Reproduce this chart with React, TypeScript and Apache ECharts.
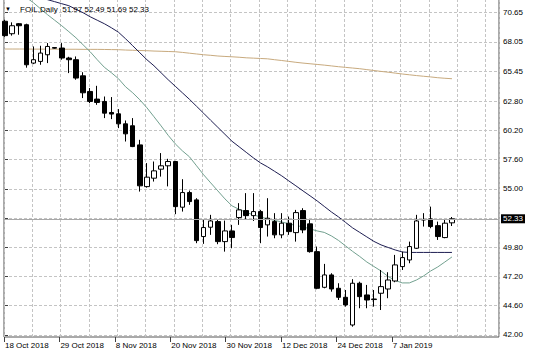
import React, { useEffect, useRef } from 'react';
import * as echarts from 'echarts';

const symbolName = 'FOIL,Daily';

// Daily candles, 18 Oct 2018 .. 17 Jan 2019 (bar index 0..63)
const opens = [
  69.89, 68.78, 69.67, 69.58, 66.17, 66.32, 66.91, 67.55, 67.51, 66.62,
  66.47, 65.04, 63.65, 62.97, 62.76, 61.78, 61.66, 60.77, 60.6, 58.9,
  55.19, 55.94, 56.74, 57.04, 57.42, 53.36, 54.66, 54.01, 50.75, 51.58,
  52.08, 50.3, 51.25, 52.44, 53.06, 52.61, 52.97, 51.79, 52.08, 50.9,
  51.94, 51.1, 53.06, 51.88, 49.41, 46.24, 47.34, 46.15, 45.35, 42.89,
  46.6, 45.56, 45.15, 45.71, 46.09, 46.8, 48.08, 48.67, 49.71, 52.22,
  52.32, 51.72, 50.66, 51.97,
];
const highs = [
  70.03, 69.79, 69.73, 69.67, 67.65, 67.71, 67.95, 67.6, 67.95, 66.73,
  66.76, 65.36, 63.95, 64.15, 63.2, 63.15, 62.08, 61.07, 61.28, 59.35,
  57.28, 57.42, 58.17, 57.66, 57.48, 55.85, 54.84, 54.16, 52.23, 52.68,
  52.23, 52.17, 51.79, 53.72, 54.61, 54.61, 53.12, 54.16, 52.83, 52.83,
  52.53, 53.12, 53.27, 52.23, 49.86, 48.32, 47.49, 46.6, 46.0, 46.96,
  46.74, 46.45, 46.0, 47.78, 47.58, 49.12, 49.41, 50.3, 52.68, 52.83,
  53.41, 52.08, 52.23, 52.49,
];
const lows = [
  68.5, 68.61, 68.69, 65.76, 66.08, 66.02, 66.17, 67.45, 66.47, 65.28,
  64.69, 63.06, 62.61, 62.46, 61.28, 61.19, 60.39, 59.2, 58.7, 54.75,
  55.1, 55.64, 56.08, 55.21, 52.74, 52.97, 53.57, 50.16, 50.1, 50.9,
  50.07, 49.41, 49.71, 51.79, 52.23, 52.14, 50.16, 50.75, 50.6, 50.6,
  50.9, 50.3, 51.05, 49.32, 46.07, 46.15, 45.85, 45.11, 44.52, 42.74,
  44.38, 44.38, 44.52, 44.22, 45.27, 46.69, 47.78, 48.38, 49.65, 51.64,
  51.49, 50.45, 50.6, 51.69,
];
const closes = [
  68.61, 69.49, 69.49, 66.02, 66.47, 67.06, 67.65, 67.5, 66.62, 66.47,
  64.84, 63.53, 62.76, 62.67, 61.72, 61.64, 60.77, 59.88, 58.75, 55.26,
  56.03, 56.59, 57.04, 57.42, 53.41, 54.66, 53.86, 50.39, 51.55, 52.14,
  50.3, 51.25, 50.66, 53.12, 52.61, 52.97, 51.55, 52.38, 50.9, 51.94,
  51.19, 52.88, 51.34, 49.41, 46.15, 47.34, 46.09, 45.35, 44.67, 46.6,
  45.41, 45.11, 45.2, 46.3, 46.89, 48.23, 48.88, 49.86, 52.14, 52.27,
  51.64, 50.75, 51.94, 52.33,
];

// Moving averages (teal = fast, navy = medium, tan = slow)
const maFast = [
  null, null, null, 72.0, 71.54, 71.0, 70.47, 69.98, 69.49, 68.96,
  68.42, 67.8, 67.18, 66.47, 65.8, 65.31, 64.78, 64.06, 63.53, 62.91,
  62.2, 61.4, 60.59, 59.75, 58.99, 58.37, 57.84, 57.04, 56.24, 55.52,
  54.81, 54.1, 53.48, 53.17, 52.9, 52.68, 52.5, 52.32, 52.19, 52.05,
  51.88, 51.74, 51.61, 51.43, 51.25, 51.12, 50.81, 50.41, 49.92, 49.43,
  48.98, 48.49, 48.09, 47.69, 47.2, 46.85, 46.63, 46.63, 46.89, 47.25,
  47.69, 48.05, 48.49, 48.94,
];
const maMid = [
  null, null, null, null, 72.6, 72.07, 71.81, 71.63, 71.45, 71.27,
  70.96, 70.65, 70.29, 69.98, 69.67, 69.31, 68.91, 68.33, 67.71, 67.09,
  66.47, 65.93, 65.31, 64.69, 64.11, 63.53, 62.95, 62.33, 61.71, 61.08,
  60.46, 59.84, 59.22, 58.73, 58.24, 57.75, 57.3, 56.95, 56.55, 56.15,
  55.7, 55.26, 54.81, 54.37, 53.92, 53.43, 52.94, 52.5, 52.01, 51.52,
  51.12, 50.72, 50.32, 50.01, 49.78, 49.56, 49.38, 49.34, 49.34, 49.34,
  49.34, 49.34, 49.34, 49.34,
];
const maSlow = [
  67.42, 67.42, 67.42, 67.42, 67.41, 67.41, 67.41, 67.41, 67.4, 67.4,
  67.4, 67.39, 67.39, 67.39, 67.38, 67.37, 67.36, 67.33, 67.31, 67.29,
  67.27, 67.24, 67.22, 67.2, 67.18, 67.12, 67.05, 66.98, 66.91, 66.86,
  66.8, 66.76, 66.73, 66.69, 66.64, 66.61, 66.58, 66.55, 66.47, 66.4,
  66.32, 66.24, 66.17, 66.11, 66.05, 65.99, 65.92, 65.85, 65.79, 65.73,
  65.67, 65.59, 65.51, 65.43, 65.36, 65.28, 65.2, 65.13, 65.06, 65.0,
  64.94, 64.87, 64.82, 64.78,
];

const xLabels = [
  '18 Oct 2018', '29 Oct 2018', '8 Nov 2018', '20 Nov 2018',
  '30 Nov 2018', '12 Dec 2018', '24 Dec 2018', '7 Jan 2019',
];
const yTicks = [42.0, 44.6, 47.2, 49.8, 52.4, 55.0, 57.6, 60.2, 62.8, 65.45, 68.05, 70.65];

const FONT = '"Liberation Sans", Arial, sans-serif';

export default function App() {
  const ref = useRef<HTMLDivElement>(null);

  useEffect(() => {
    const chart = echarts.init(ref.current!, null, { renderer: 'svg' });
    const n = closes.length;
    const candles = closes.map((c, i) => [i, opens[i], c, lows[i], highs[i]]);
    const toLine = (arr: (number | null)[]) => arr.map((v, i) => [i, v]);
    const last = n - 1;
    const lastPrice = closes[last];
    const header = `${symbolName}  ${opens[last].toFixed(2)} ${highs[last].toFixed(2)} ${lows[last].toFixed(2)} ${closes[last].toFixed(2)}`;

    const gridLine = { show: true, lineStyle: { color: '#c4c4c4', type: [3, 2], width: 1 } };

    chart.setOption({
      animation: false,
      backgroundColor: '#ffffff',
      textStyle: { fontFamily: FONT },
      grid: {
        left: 4, right: 37, top: -1, bottom: 21,
        show: true, borderColor: '#555555', borderWidth: 1, backgroundColor: '#ffffff',
        outerBoundsMode: 'none',
      },
      graphic: [
        { type: 'text', left: 5, top: 6, z: 10, style: { text: '▼', fontSize: 6, fill: '#000', fontFamily: FONT } },
        { type: 'text', left: 20, top: 5, z: 10, style: { text: header, fontSize: 8, fill: '#000', fontFamily: FONT } },
      ],
      xAxis: [
        {
          type: 'value', gridIndex: 0, min: -0.141, max: 69.63, show: false,
        },
        {
          type: 'value', gridIndex: 0, min: 0, max: 17.47, interval: 1, position: 'bottom',
          axisLine: { show: false }, axisTick: { show: false }, axisLabel: { show: false },
          splitLine: gridLine,
        },
        {
          type: 'value', gridIndex: 0, min: 0, max: 8.935, interval: 1, position: 'bottom',
          axisLine: { show: false },
          axisTick: {
            show: true, length: 5, customValues: xLabels.map((_, i) => i),
            lineStyle: { color: '#404040' },
          },
          axisLabel: {
            show: true, customValues: xLabels.map((_, i) => i),
            formatter: (v: number) => xLabels[Math.round(v)] ?? '',
            align: 'left', margin: 4, padding: [0, 0, 0, 1],
            fontSize: 8, color: '#000', fontFamily: FONT,
          },
          splitLine: { show: false },
        },
      ],
      yAxis: [
        {
          type: 'value', gridIndex: 0, position: 'right', min: 41.822, max: 71.867,
          axisLine: { show: false },
          axisTick: { show: true, length: 3, customValues: yTicks, lineStyle: { color: '#404040' } },
          axisLabel: {
            customValues: yTicks,
            formatter: (v: number) => (Math.abs(v - 52.4) < 0.01 ? '' : v.toFixed(2)),
            margin: 4, padding: [2, 0, 0, 0], fontSize: 8, color: '#000', fontFamily: FONT,
          },
          splitLine: gridLine,
        },
      ],
      series: [
        {
          type: 'line', xAxisIndex: 0, yAxisIndex: 0, data: toLine(maSlow),
          showSymbol: false, symbol: 'none', clip: true, z: 2,
          lineStyle: { color: '#c8aa7e', width: 1 },
        },
        {
          type: 'line', xAxisIndex: 0, yAxisIndex: 0, data: toLine(maMid),
          showSymbol: false, symbol: 'none', clip: true, z: 2,
          lineStyle: { color: '#1e1e52', width: 1 },
        },
        {
          type: 'line', xAxisIndex: 0, yAxisIndex: 0, data: toLine(maFast),
          showSymbol: false, symbol: 'none', clip: true, z: 2,
          lineStyle: { color: '#72a08f', width: 1 },
        },
        {
          type: 'candlestick', xAxisIndex: 0, yAxisIndex: 0, data: candles,
          encode: { x: 0, y: [1, 2, 3, 4] },
          barWidth: 5, z: 3,
          itemStyle: {
            color: '#ffffff', color0: '#000000',
            borderColor: '#000000', borderColor0: '#000000', borderWidth: 1,
          },
          markLine: {
            silent: true, symbol: 'none', animation: false,
            data: [{ yAxis: lastPrice }],
            lineStyle: { color: '#a8a8a8', type: 'solid', width: 1 },
            label: {
              position: 'end', formatter: lastPrice.toFixed(2), distance: 2,
              color: '#ffffff', backgroundColor: '#000000', padding: [1, 2, 0, 2],
              fontSize: 8, fontFamily: FONT,
            },
          },
        },
      ],
    });

    return () => chart.dispose();
  }, []);

  return (
    <div
      ref={ref}
      style={{ position: 'absolute', left: 0, top: 0, width: 536, height: 358 }}
    />
  );
}
